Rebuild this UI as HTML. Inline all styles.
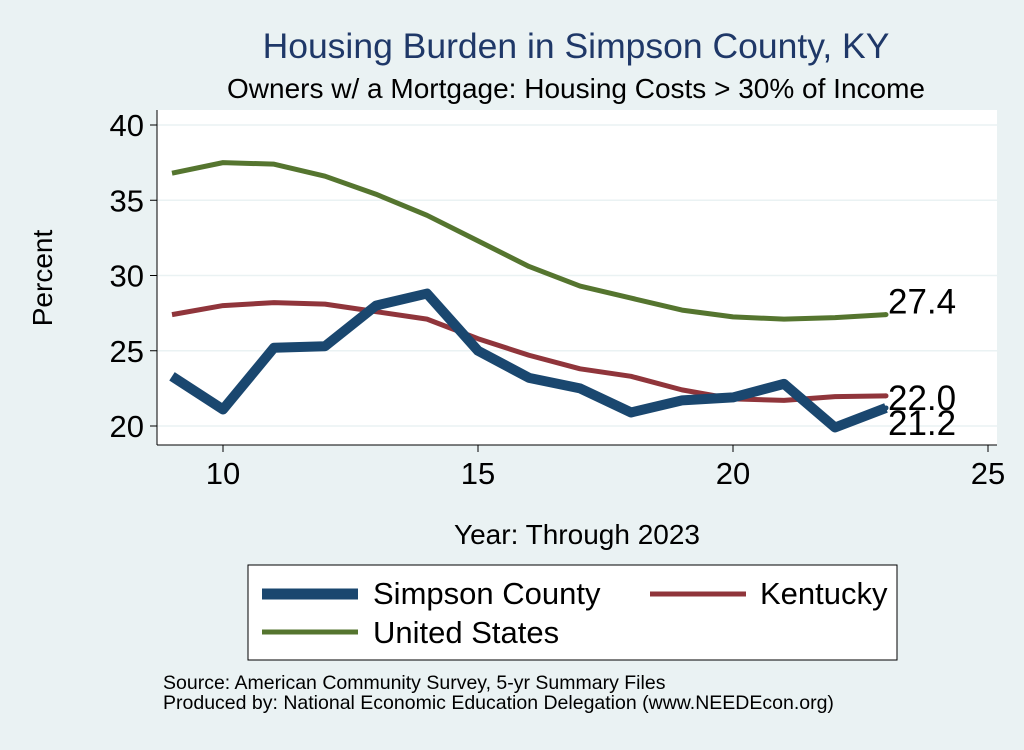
<!DOCTYPE html>
<html><head><meta charset="utf-8"><style>
body{margin:0;background:#eaf2f3;}
svg text{font-family:"Liberation Sans",Arial,sans-serif;}
</style></head><body>
<svg id="c" width="1024" height="745" xmlns="http://www.w3.org/2000/svg">
<rect width="1024" height="745" fill="#eaf2f3"/>
<text x="576" y="58" font-size="35.5" fill="#1f3868" text-anchor="middle">Housing Burden in Simpson County, KY</text>
<text x="576" y="98" font-size="28" fill="#000" text-anchor="middle">Owners w/ a Mortgage: Housing Costs &gt; 30% of Income</text>
<rect x="157" y="110" width="840" height="335" fill="#fff"/>
<g id="grid"></g>
<g id="axes"></g>
<g id="series"></g>
<text x="52" y="278" font-size="28" text-anchor="middle" transform="rotate(-90 52 278)">Percent</text>
<text x="577" y="544" font-size="28" text-anchor="middle">Year: Through 2023</text>
<g>
<rect x="248" y="565" width="649" height="95" fill="#fff" stroke="#000" stroke-width="1"/>
<line x1="262" y1="594" x2="358" y2="594" stroke="#1a476f" stroke-width="11"/>
<text x="373" y="604" font-size="31">Simpson County</text>
<line x1="650" y1="594" x2="746" y2="594" stroke="#90353b" stroke-width="5"/>
<text x="760" y="604" font-size="31">Kentucky</text>
<line x1="262" y1="632" x2="358" y2="632" stroke="#55752f" stroke-width="5"/>
<text x="373" y="643" font-size="31">United States</text>
</g>
<text x="163" y="689" font-size="19.5">Source: American Community Survey, 5-yr Summary Files</text>
<text x="163" y="709" font-size="19.5">Produced by: National Economic Education Delegation (www.NEEDEcon.org)</text>
</svg>
<script>
const years=[9,10,11,12,13,14,15,16,17,18,19,20,21,22,23];
const simpson=[23.3,21.1,25.2,25.3,28.0,28.8,25.0,23.2,22.5,20.9,21.7,21.9,22.8,19.9,21.2];
const kentucky=[27.4,28.0,28.2,28.1,27.6,27.1,25.8,24.7,23.8,23.3,22.4,21.8,21.7,21.95,22.0];
const us=[36.8,37.5,37.4,36.6,35.4,34.0,32.3,30.6,29.3,28.5,27.7,27.25,27.1,27.2,27.4];
const xTicks=[10,15,20,25];
const yTicks=[20,25,30,35,40];
const endLabels=["21.2","22.0","27.4"];
const NS="http://www.w3.org/2000/svg";
const X=v=>223+(v-10)*51;
const Y=v=>426-(v-20)*15.05;
function mk(t,a,p){const e=document.createElementNS(NS,t);for(const k in a)e.setAttribute(k,a[k]);p.appendChild(e);return e;}
const grid=document.getElementById('grid'),axes=document.getElementById('axes'),ser=document.getElementById('series');
yTicks.forEach(t=>{
 const g=mk('line',{x1:157,x2:997,y1:Y(t),y2:Y(t),stroke:'#eaf2f3','stroke-width':1.5},grid);
 
 
 mk('line',{x1:150,x2:157,y1:Y(t),y2:Y(t),stroke:'#000'},axes);
 const tx=mk('text',{x:144,y:Y(t)+11,'font-size':31,'text-anchor':'end'},axes);tx.textContent=t;
 
 
});
mk('line',{x1:157,x2:157,y1:110,y2:445,stroke:'#000'},axes);
mk('line',{x1:157,x2:997,y1:445,y2:445,stroke:'#000'},axes);
xTicks.forEach(t=>{
 mk('line',{x1:X(t),x2:X(t),y1:445,y2:452,stroke:'#000'},axes);
 const tx=mk('text',{x:X(t),y:484,'font-size':31,'text-anchor':'middle'},axes);tx.textContent=t;
 
 
});
function line(d,col,w,name){
 const p=mk('polyline',{points:d.map((v,i)=>X(years[i])+','+Y(v)).join(' '),fill:'none',stroke:col,'stroke-width':w,'stroke-linejoin':'round'},ser);
 
 
 const n=d.length-1;
 mk('circle',{cx:X(years[n]),cy:Y(d[n]),r:2.5,fill:col},ser);
}
line(us,'#55752f',5,'line-united-states');
line(kentucky,'#90353b',5,'line-kentucky');
line(simpson,'#1a476f',10,'line-simpson-county');
const n=years.length-1;
[[simpson,endLabels[0],27],[kentucky,endLabels[1],14],[us,endLabels[2],-1]].forEach(([d,l,dy],i)=>{
 const t=mk('text',{x:X(years[n])+2,y:Y(d[n])+dy,'font-size':35},ser);t.textContent=l;
 
 
});
</script>
</body></html>
